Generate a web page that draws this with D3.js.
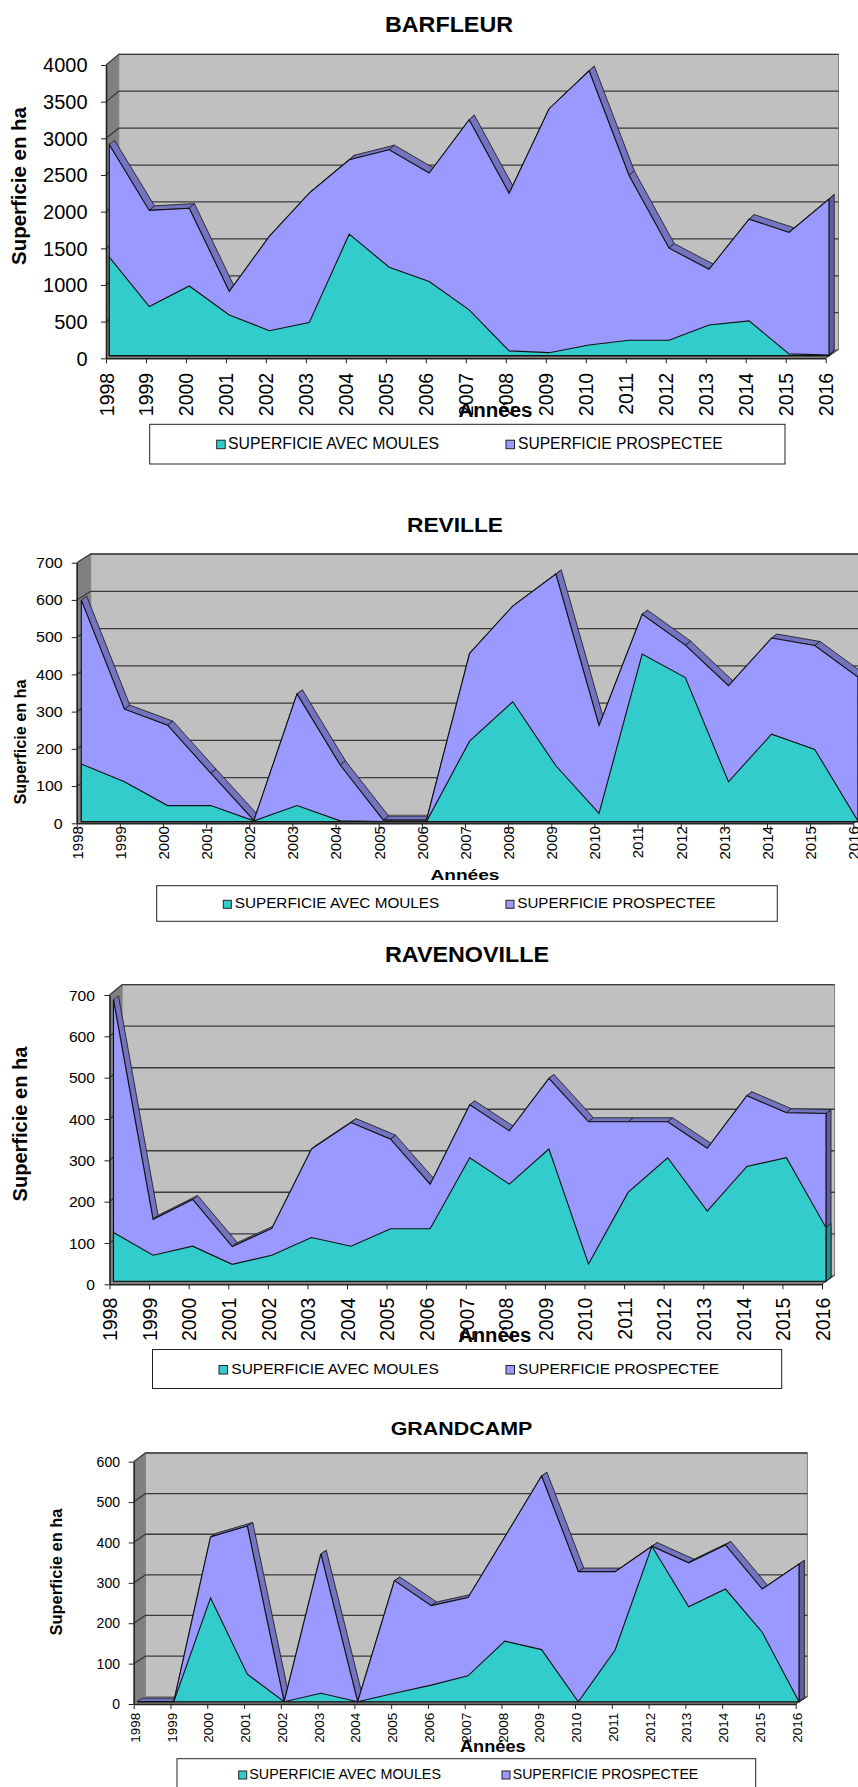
<!DOCTYPE html>
<html>
<head>
<meta charset="utf-8">
<script src="https://d3js.org/d3.v7.min.js"></script>
<style>
  body { margin: 0; background: #fff; }
  svg { display: block; }
  text { font-family: "Liberation Sans", Arial, sans-serif; fill: #000; }
</style>
</head>
<body>
<script>
// years shared by the four sites
const years = [1998, 1999, 2000, 2001, 2002, 2003, 2004, 2005, 2006, 2007, 2008, 2009, 2010, 2011, 2012, 2013, 2014, 2015, 2016];

// values, in ha
const barfleurMoules = [1342, 670, 950, 555, 340, 450, 1656, 1205, 1010, 623, 64, 40, 145, 210, 210, 418, 473, 23, 9];
const barfleurProspectee = [2875, 1980, 2010, 875, 1625, 2215, 2670, 2807, 2490, 3216, 2215, 3367, 3885, 2457, 1465, 1178, 1860, 1680, 2134];
const barfleurTicks = [0, 500, 1000, 1500, 2000, 2500, 3000, 3500, 4000];

const revilleMoules = [155, 107, 43, 43, 2, 43, 2, 0, 0, 216, 322, 150, 22, 450, 387, 107, 235, 194, 2];
const revilleProspectee = [595, 302, 259, 130, 3, 343, 152, 4, 4, 452, 579, 665, 258, 557, 474, 365, 493, 473, 388];
const revilleTicks = [0, 100, 200, 300, 400, 500, 600, 700];

const ravenovilleMoules = [118, 63, 85, 41, 63, 106, 85, 127, 127, 299, 235, 320, 42, 215, 299, 170, 278, 299, 130];
const ravenovilleProspectee = [681, 150, 198, 84, 128, 320, 384, 344, 235, 427, 364, 491, 386, 386, 386, 322, 449, 408, 406];
const ravenovilleTicks = [0, 100, 200, 300, 400, 500, 600, 700];

const grandcampMoules = [0, 0, 257, 68, 0, 21, 0, 21, 41, 64, 150, 129, 0, 128, 385, 235, 279, 172, 0];
const grandcampProspectee = [0, 0, 408, 435, 0, 366, 0, 300, 238, 258, 408, 559, 322, 322, 385, 344, 388, 279, 341];
const grandcampTicks = [0, 100, 200, 300, 400, 500, 600];

const legendLabels = ['SUPERFICIE AVEC MOULES', 'SUPERFICIE PROSPECTEE'];

const colors = {
    wall: '#c0c0c0', side: '#808080', floor: '#808080', grid: '#3a3a3a',
    teal: '#33cccc', tealCap: '#229090',
    purple: '#9999ff', ridge: '#7373bf', cap: '#5f5f9f'
};

const svg = d3.select('body').append('svg')
    .attr('width', 858)
    .attr('height', 1787);

// layout of each panel: plot box, depth of the fake 3D, and text boxes
const charts = [
    {
        title: 'BARFLEUR', moules: barfleurMoules, prospectee: barfleurProspectee, ticks: barfleurTicks,
        x0: 106, x1: 825.7, y0: 358.3, y1: 65, backDx: 12.8, back0: 349.6, back1: 54.3,
        sx: 3.3, sy: -2.7, rx: 5.2, ry: -4.6,
        titleText: { x: 449, y: 31.5, size: 22, len: 128 },
        yTick: { size: 20, charW: 11.1, end: 87.5 },
        xTick: { size: 19.5, gap: 14.5, base: 7 },
        yLabel: { x: 26, y: 186, size: 20, len: 158 },
        xLabel: { x: 495.5, y: 417, size: 20, len: 74 },
        legend: { x0: 149.7, x1: 785, y0: 424.3, y1: 464, base: 448.7, size: 16, s1: 216.7, t1: 228, l1: 211, s2: 506, t2: 518, l2: 204.7, sw: 8.5 }
    },
    {
        title: 'REVILLE', moules: revilleMoules, prospectee: revilleProspectee, ticks: revilleTicks,
        x0: 76.7, x1: 853.3, y0: 823.3, y1: 562.7, backDx: 14, back0: 815, back1: 554,
        sx: 4.6, sy: -1.7, rx: 5.4, ry: -4,
        titleText: { x: 455, y: 531.5, size: 20, len: 96 },
        yTick: { size: 14, charW: 8.9, end: 62.7 },
        xTick: { size: 15, gap: 2.8, base: 5.4 },
        yLabel: { x: 26, y: 742, size: 16, len: 125 },
        xLabel: { x: 465, y: 880, size: 15.5, len: 69 },
        legend: { x0: 156.7, x1: 777.3, y0: 885.7, y1: 921.3, base: 908.3, size: 14, s1: 223.3, t1: 234.7, l1: 204.6, s2: 506, t2: 517.3, l2: 198.4, sw: 8 }
    },
    {
        title: 'RAVENOVILLE', moules: ravenovilleMoules, prospectee: ravenovilleProspectee, ticks: ravenovilleTicks,
        x0: 109.5, x1: 822, y0: 1284.3, y1: 995, backDx: 12.6, back0: 1275.3, back1: 984.7,
        sx: 4, sy: -3, rx: 5, ry: -4,
        titleText: { x: 467, y: 961.5, size: 22, len: 164 },
        yTick: { size: 15, charW: 8.7, end: 95 },
        xTick: { size: 19.5, gap: 13.4, base: 7.3 },
        yLabel: { x: 26.5, y: 1124, size: 20, len: 155 },
        xLabel: { x: 494.7, y: 1341.7, size: 20, len: 73 },
        legend: { x0: 152.5, x1: 781.7, y0: 1349.5, y1: 1388.5, base: 1374, size: 15.5, s1: 219, t1: 231.3, l1: 207.5, s2: 506, t2: 518, l2: 201, sw: 8.5 }
    },
    {
        title: 'GRANDCAMP', moules: grandcampMoules, prospectee: grandcampProspectee, ticks: grandcampTicks,
        x0: 133.7, x1: 795.7, y0: 1704, y1: 1461.7, backDx: 11.7, back0: 1696.7, back1: 1453,
        sx: 3.3, sy: -2.3, rx: 5.4, ry: -3.6,
        titleText: { x: 461.5, y: 1435, size: 18.5, len: 141.6 },
        yTick: { size: 14, charW: 7.8, end: 120 },
        xTick: { size: 13.5, gap: 8.7, base: 5.6 },
        yLabel: { x: 61.5, y: 1572, size: 16.5, len: 127 },
        xLabel: { x: 492.8, y: 1752.3, size: 16, len: 65.7 },
        legend: { x0: 177, x1: 755.7, y0: 1758.7, y1: 1800, base: 1779, size: 14, s1: 238.7, t1: 249.3, l1: 191.7, s2: 502, t2: 512.7, l2: 185.6, sw: 8 }
    }
];

charts.forEach(drawChart);

function stretched (sel, size, len) {
    return sel.attr('font-size', size)
        .attr('textLength', len)
        .attr('lengthAdjust', 'spacingAndGlyphs');
}

function drawChart (c) {
    const g = svg.append('g');
    const maxV = d3.max(c.ticks);

    const x = d3.scalePoint().domain(years).range([c.x0, c.x1]);
    const y = d3.scaleLinear().domain([0, maxV]).range([c.y0, c.y1]);
    const yBack = d3.scaleLinear().domain([0, maxV]).range([c.back0, c.back1]);
    const backRight = c.x1 + c.backDx;
    const backLeft = c.x0 + c.backDx;

    const poly = d3.line();

    //back wall
    g.append('rect')
        .attr('x', backLeft)
        .attr('y', c.back1)
        .attr('width', backRight - backLeft)
        .attr('height', c.back0 - c.back1)
        .attr('fill', colors.wall)
        .attr('stroke', colors.side)
        .attr('stroke-width', 1);
    //left side wall
    g.append('path')
        .attr('d', poly([[c.x0, c.y0], [c.x0, c.y1], [backLeft, c.back1], [backLeft, c.back0]]) + 'Z')
        .attr('fill', colors.side);
    //floor
    g.append('path')
        .attr('d', poly([[c.x0, c.y0], [c.x1, c.y0], [backRight, c.back0], [backLeft, c.back0]]) + 'Z')
        .attr('fill', colors.floor);
    //top edge of the wall, darker than the others
    g.append('path')
        .attr('d', poly([[c.x0, c.y1], [backLeft, c.back1], [backRight, c.back1]]))
        .attr('fill', 'none')
        .attr('stroke', colors.grid)
        .attr('stroke-width', 1.3);
    //gridlines, on the back wall and across the side wall
    g.selectAll('.grid')
        .data(c.ticks.filter(t => t > 0 && t < maxV))
        .enter()
        .append('path')
        .attr('d', t => poly([[c.x0, y(t)], [backLeft, yBack(t)], [backRight, yBack(t)]]))
        .attr('fill', 'none')
        .attr('stroke', colors.grid)
        .attr('stroke-width', 1.3);
    //edge of floor on the right
    g.append('path')
        .attr('d', poly([[c.x1, c.y0], [backRight, c.back0]]))
        .attr('fill', 'none')
        .attr('stroke', colors.grid)
        .attr('stroke-width', 1);

    // series plane sits a little behind the front axis
    const px = i => x(years[i]) + c.sx;
    const py = v => y(v) + c.sy;
    const base = py(0);

    //ridge on top of the purple series, the front area hides what should not show
    d3.range(years.length - 1).forEach(i => {
        const a = c.prospectee[i];
        const b = c.prospectee[i + 1];
        g.append('path')
            .attr('d', poly([
                [px(i), py(a)],
                [px(i + 1), py(b)],
                [px(i + 1) + c.rx, py(b) + c.ry],
                [px(i) + c.rx, py(a) + c.ry]
            ]) + 'Z')
            .attr('fill', colors.ridge)
            .attr('stroke', '#222')
            .attr('stroke-width', 0.9);
    });

    //end caps at the last year
    const last = years.length - 1;
    const capPoints = v => [
        [px(last), py(v)],
        [px(last) + c.rx, py(v) + c.ry],
        [px(last) + c.rx, base + c.ry],
        [px(last), base]
    ];
    g.append('path')
        .attr('d', poly(capPoints(c.prospectee[last])) + 'Z')
        .attr('fill', colors.cap)
        .attr('stroke', '#222')
        .attr('stroke-width', 0.9);
    g.append('path')
        .attr('d', poly(capPoints(c.moules[last])) + 'Z')
        .attr('fill', colors.tealCap)
        .attr('stroke', '#222')
        .attr('stroke-width', 0.9);

    const area = d3.area()
        .x((d, i) => px(i))
        .y0(base)
        .y1(d => py(d));

    //purple area
    g.append('path')
        .datum(c.prospectee)
        .attr('d', area)
        .attr('fill', colors.purple)
        .attr('stroke', '#111')
        .attr('stroke-width', 1.1);
    //teal area
    g.append('path')
        .datum(c.moules)
        .attr('d', area)
        .attr('fill', colors.teal)
        .attr('stroke', '#111')
        .attr('stroke-width', 1.1);

    //y axis
    const yAxis = g.append('g')
        .attr('transform', `translate(${c.x0},0)`)
        .call(d3.axisLeft(y).tickValues(c.ticks).tickFormat(d3.format('d')).tickSize(5).tickSizeOuter(0).tickPadding(0));
    yAxis.select('.domain').attr('stroke', '#222').attr('stroke-width', 1.6);
    yAxis.selectAll('.tick line').attr('stroke', '#222');
    yAxis.selectAll('.tick text').each(function (t) {
        const label = d3.select(this);
        stretched(label, c.yTick.size, String(t).length * c.yTick.charW)
            .attr('x', c.yTick.end - c.x0)
            .attr('text-anchor', 'end')
            .attr('dy', '0.34em');
    });

    //x axis, labels turned up
    const xAxis = g.append('g')
        .attr('transform', `translate(0,${c.y0})`)
        .call(d3.axisBottom(x).tickFormat(d3.format('d')).tickSize(5).tickSizeOuter(0));
    xAxis.select('.domain').attr('stroke', '#222').attr('stroke-width', 1.6);
    xAxis.selectAll('.tick line').attr('stroke', '#222');
    xAxis.selectAll('.tick text')
        .attr('font-size', c.xTick.size)
        .attr('transform', 'rotate(-90)')
        .attr('text-anchor', 'end')
        .attr('x', -c.xTick.gap)
        .attr('y', c.xTick.base)
        .attr('dy', 0);

    //title
    stretched(g.append('text').text(c.title), c.titleText.size, c.titleText.len)
        .attr('x', c.titleText.x)
        .attr('y', c.titleText.y)
        .attr('text-anchor', 'middle')
        .attr('font-weight', 'bold');
    //axis names
    stretched(g.append('text').text('Superficie en ha'), c.yLabel.size, c.yLabel.len)
        .attr('transform', `translate(${c.yLabel.x},${c.yLabel.y}) rotate(-90)`)
        .attr('text-anchor', 'middle')
        .attr('font-weight', 'bold');
    stretched(g.append('text').text('Années'), c.xLabel.size, c.xLabel.len)
        .attr('x', c.xLabel.x)
        .attr('y', c.xLabel.y)
        .attr('text-anchor', 'middle')
        .attr('font-weight', 'bold');

    //legend
    const l = c.legend;
    g.append('rect')
        .attr('x', l.x0)
        .attr('y', l.y0)
        .attr('width', l.x1 - l.x0)
        .attr('height', l.y1 - l.y0)
        .attr('fill', '#fff')
        .attr('stroke', '#222')
        .attr('stroke-width', 1);
    const entries = [
        { label: legendLabels[0], fill: colors.teal, sx: l.s1, tx: l.t1, len: l.l1 },
        { label: legendLabels[1], fill: colors.purple, sx: l.s2, tx: l.t2, len: l.l2 }
    ];
    entries.forEach(e => {
        g.append('rect')
            .attr('x', e.sx)
            .attr('y', l.base - l.sw)
            .attr('width', l.sw)
            .attr('height', l.sw)
            .attr('fill', e.fill)
            .attr('stroke', '#222')
            .attr('stroke-width', 1);
        stretched(g.append('text').text(e.label), l.size, e.len)
            .attr('x', e.tx)
            .attr('y', l.base);
    });
}
</script>
</body>
</html>
